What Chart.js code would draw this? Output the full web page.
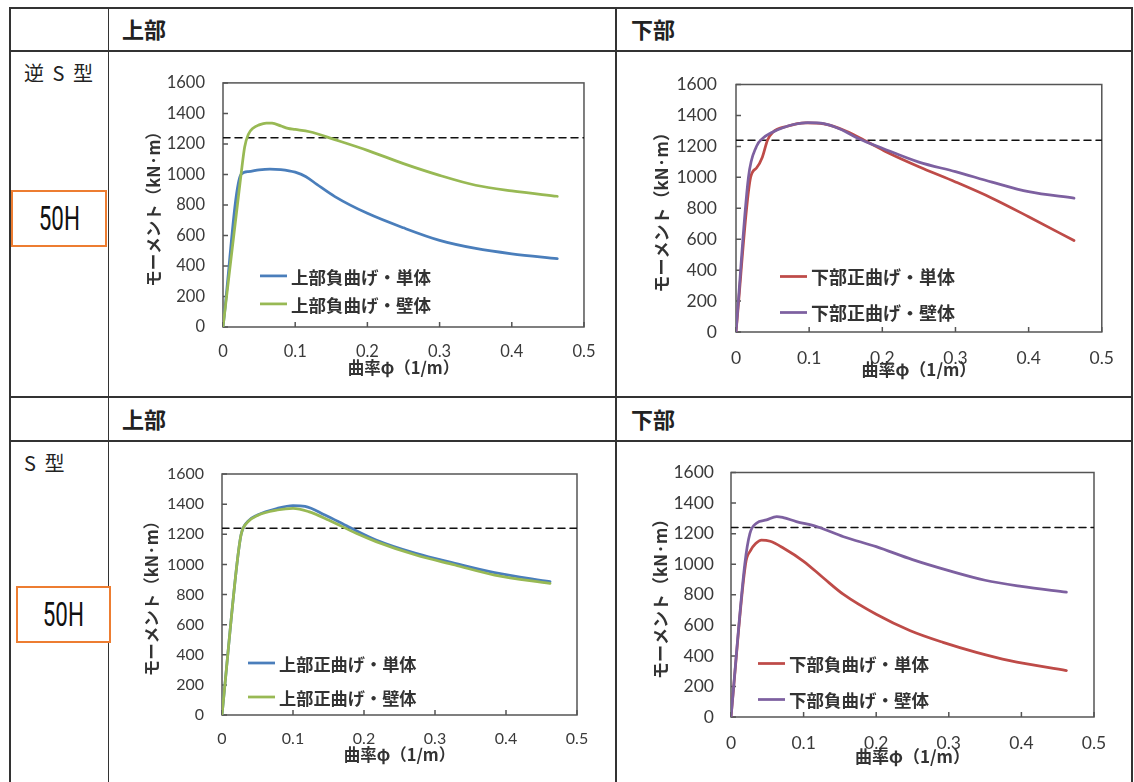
<!DOCTYPE html>
<html lang="ja">
<head>
<meta charset="utf-8">
<title>モーメント－曲率関係 50H</title>
<script src="https://cdn.jsdelivr.net/npm/chart.js@4.4.1/dist/chart.umd.min.js"></script>
<style>
  html, body { margin: 0; padding: 0; background: #fff; }
  body {
    width: 1134px; height: 782px; position: relative; overflow: hidden;
    font-family: 'Noto Sans CJK JP', sans-serif; color: #222;
  }
  .hl { position: absolute; left: 9px; width: 1123px; height: 1.5px; background: #333; }
  .vl { position: absolute; top: 7px; height: 775px; width: 1.5px; background: #333; }
  .head { position: absolute; font-size: 22px; font-weight: bold; line-height: 1; color: #222; }
  .rowlabel { position: absolute; font-size: 20px; line-height: 1; color: #222; word-spacing: 4px; }
  .tag {
    position: absolute; box-sizing: border-box; border: 2px solid #ed7d31; background: #fff;
    display: flex; align-items: center; justify-content: center;
  }
  .tag span { font-family: Roboto, sans-serif; font-size: 33px; display: inline-block; transform: scaleX(0.68); color: #111; }
  canvas.plot { position: absolute; }
</style>
</head>
<body>

<!-- table rules -->
<div class="hl" style="top:7px"></div>
<div class="hl" style="top:50px"></div>
<div class="hl" style="top:396px"></div>
<div class="hl" style="top:440px"></div>
<div class="vl" style="left:9px"></div>
<div class="vl" style="left:107.5px"></div>
<div class="vl" style="left:615px"></div>
<div class="vl" style="left:1131px"></div>

<!-- headers -->
<div class="head" style="left:122px; top:17px">上部</div>
<div class="head" style="left:631px; top:17px">下部</div>
<div class="head" style="left:122px; top:407px">上部</div>
<div class="head" style="left:631px; top:407px">下部</div>

<div class="rowlabel" style="left:24px; top:63px">逆 S 型</div>
<div class="rowlabel" style="left:24px; top:453px">S 型</div>

<div class="tag" style="left:11px; top:190px; width:96px; height:57px"><span>50H</span></div>
<div class="tag" style="left:16px; top:586px; width:95px; height:57px"><span>50H</span></div>

<canvas class="plot" id="c1"></canvas>
<canvas class="plot" id="c2"></canvas>
<canvas class="plot" id="c3"></canvas>
<canvas class="plot" id="c4"></canvas>

<script>
// ---- shared axis data ----
const xTickLabels = ['0', '0.1', '0.2', '0.3', '0.4', '0.5'];
const yTickLabels = ['0', '200', '400', '600', '800', '1000', '1200', '1400', '1600'];
const refMoment = 1240;   // dashed reference line
const xTitle = '曲率φ（1/m）';
const yTitle = 'モーメント（kN·m）';

// ---- 逆S型 / 上部 ----
const revUpperLabels = ['上部負曲げ・単体', '上部負曲げ・壁体'];
const revUpperSingleX = [0, 0.025, 0.035, 0.05, 0.065, 0.08, 0.1, 0.115, 0.13, 0.155, 0.2, 0.25, 0.3, 0.35, 0.4, 0.463];
const revUpperSingleY = [0, 1000, 1018, 1030, 1035, 1032, 1015, 985, 935, 855, 745, 650, 568, 515, 480, 448];
const revUpperWallX = [0, 0.025, 0.03, 0.035, 0.042, 0.05, 0.06, 0.068, 0.08, 0.09, 0.1, 0.12, 0.155, 0.2, 0.25, 0.3, 0.35, 0.4, 0.463];
const revUpperWallY = [0, 1000, 1180, 1262, 1305, 1325, 1337, 1336, 1318, 1302, 1295, 1280, 1228, 1158, 1071, 994, 929, 892, 857];

// ---- 逆S型 / 下部 ----
const revLowerLabels = ['下部正曲げ・単体', '下部正曲げ・壁体'];
const revLowerSingleX = [0, 0.02, 0.028, 0.036, 0.043, 0.05, 0.07, 0.095, 0.12, 0.15, 0.18, 0.205, 0.25, 0.3, 0.35, 0.4, 0.462];
const revLowerSingleY = [0, 1000, 1060, 1130, 1240, 1290, 1330, 1352, 1345, 1300, 1228, 1165, 1068, 970, 865, 745, 591];
const revLowerWallX = [0, 0.017, 0.028, 0.036, 0.049, 0.065, 0.08, 0.098, 0.12, 0.142, 0.168, 0.2, 0.25, 0.3, 0.35, 0.4, 0.462];
const revLowerWallY = [0, 1000, 1200, 1250, 1290, 1322, 1343, 1353, 1347, 1312, 1250, 1188, 1098, 1037, 969, 907, 865];

// ---- S型 / 上部 ----
const sUpperLabels = ['上部正曲げ・単体', '上部正曲げ・壁体'];
const sUpperSingleX = [0, 0.021, 0.027, 0.036, 0.05, 0.078, 0.1, 0.117, 0.145, 0.178, 0.217, 0.273, 0.328, 0.384, 0.462];
const sUpperSingleY = [0, 1000, 1200, 1284, 1328, 1372, 1390, 1385, 1328, 1250, 1162, 1073, 1007, 945, 885];
const sUpperWallX = [0, 0.021, 0.027, 0.036, 0.05, 0.078, 0.1, 0.122, 0.15, 0.189, 0.217, 0.273, 0.328, 0.384, 0.462];
const sUpperWallY = [0, 1000, 1200, 1280, 1325, 1361, 1372, 1350, 1295, 1206, 1151, 1062, 996, 929, 874];

// ---- S型 / 下部 ----
const sLowerLabels = ['下部負曲げ・単体', '下部負曲げ・壁体'];
const sLowerSingleX = [0, 0.02, 0.027, 0.034, 0.042, 0.054, 0.072, 0.1, 0.127, 0.155, 0.2, 0.247, 0.292, 0.338, 0.384, 0.462];
const sLowerSingleY = [0, 1000, 1090, 1135, 1158, 1150, 1106, 1019, 911, 802, 672, 564, 488, 423, 369, 304];
const sLowerWallX = [0, 0.019, 0.026, 0.035, 0.049, 0.063, 0.072, 0.09, 0.118, 0.155, 0.2, 0.25, 0.3, 0.35, 0.4, 0.462];
const sLowerWallY = [0, 1000, 1200, 1268, 1290, 1312, 1305, 1279, 1247, 1180, 1115, 1030, 958, 895, 855, 817];

const BLUE = '#4a7ebb', GREEN = '#98b954', RED = '#be4b48', PURPLE = '#7d60a0';

function pts(xs, ys) {
    return xs.map((x, i) => ({ x: x, y: ys[i] }));
}

// plot frame + inside tick marks (Excel style)
const framePlugin = {
    id: 'frame',
    beforeDatasetsDraw(chart) {
        const { ctx, chartArea: a, scales: { x, y } } = chart;
        ctx.save();
        ctx.strokeStyle = '#555';
        ctx.lineWidth = 1.5;
        ctx.strokeRect(a.left, a.top, a.right - a.left, a.bottom - a.top);
        ctx.beginPath();
        y.ticks.forEach(t => {
            const py = y.getPixelForValue(t.value);
            ctx.moveTo(a.left, py);
            ctx.lineTo(a.left + 5, py);
        });
        x.ticks.forEach(t => {
            const px = x.getPixelForValue(t.value);
            ctx.moveTo(px, a.bottom);
            ctx.lineTo(px, a.bottom - 5);
        });
        ctx.stroke();
        ctx.restore();
    }
};

// legend drawn inside the plot area
const inLegendPlugin = {
    id: 'inLegend',
    afterDatasetsDraw(chart, args, opts) {
        const { ctx, chartArea: a } = chart;
        ctx.save();
        ctx.font = 'bold ' + opts.size + 'px "Noto Sans CJK JP"';
        ctx.textBaseline = 'middle';
        ctx.fillStyle = '#333';
        let row = 0;
        chart.data.datasets.forEach(ds => {
            if (!ds.showInLegend) return;
            const x = a.left + opts.x;
            const y = a.top + opts.rows[row++];
            ctx.strokeStyle = ds.borderColor;
            ctx.lineWidth = ds.borderWidth;
            ctx.beginPath();
            ctx.moveTo(x, y);
            ctx.lineTo(x + 27, y);
            ctx.stroke();
            ctx.fillText(ds.label, x + 31, y + 1);
        });
        ctx.restore();
    }
};

function makeChart(id, g, labels, colors, sx, sy, wx, wy) {
    const el = document.getElementById(id);
    el.width = g.cw;
    el.height = g.ch;
    el.style.left = g.cx + 'px';
    el.style.top = g.cy + 'px';

    const xH = g.cy + g.ch - g.B;       // x scale height
    const yW = g.L - g.cx;              // y scale width
    const titleLH = g.titleSize * 1.2;

    return new Chart(el, {
        type: 'line',
        data: {
            datasets: [
                { label: labels[0], data: pts(sx, sy), borderColor: colors[0], borderWidth: 2.75, order: 1, showInLegend: true },
                { label: labels[1], data: pts(wx, wy), borderColor: colors[1], borderWidth: 2.75, order: 0, showInLegend: true },
                {
                    label: 'ref', data: [{ x: 0, y: refMoment }, { x: 0.5, y: refMoment }],
                    borderColor: '#111', borderWidth: 1.5, borderDash: [7, 5], tension: 0, order: 2
                }
            ]
        },
        options: {
            responsive: false,
            animation: false,
            events: [],
            layout: { padding: { left: 0, top: g.T - g.cy, right: g.cx + g.cw - g.R, bottom: 0 } },
            elements: {
                point: { radius: 0 },
                line: { tension: 0.4, cubicInterpolationMode: 'monotone', borderCapStyle: 'round', borderJoinStyle: 'round' }
            },
            plugins: {
                legend: { display: false },
                tooltip: { enabled: false },
                inLegend: { x: g.legendX, rows: g.legendRows, size: g.legendSize }
            },
            scales: {
                x: {
                    type: 'linear', min: 0, max: 0.5,
                    afterFit: s => { s.height = xH; },
                    grid: { display: false, drawTicks: false },
                    border: { display: false },
                    ticks: {
                        stepSize: 0.1, padding: g.xTickPad, color: '#3a3a3a', maxRotation: 0, autoSkip: false,
                        font: { family: 'Lato', size: g.tickSize },
                        callback: (v, i) => xTickLabels[i]
                    },
                    title: {
                        display: true, text: xTitle, color: '#333',
                        font: { family: 'Noto Sans CJK JP', size: g.titleSize, weight: 'bold' },
                        padding: { top: 0, bottom: g.cy + g.ch - g.xTitleY - titleLH / 2 }
                    }
                },
                y: {
                    min: 0, max: 1600,
                    afterFit: s => { s.width = yW; },
                    grid: { display: false, drawTicks: false },
                    border: { display: false },
                    ticks: {
                        stepSize: 200, padding: g.yTickPad, color: '#3a3a3a',
                        font: { family: 'Lato', size: g.tickSize },
                        callback: (v, i) => yTickLabels[i]
                    },
                    title: {
                        display: true, text: yTitle, color: '#333',
                        font: { family: 'Noto Sans CJK JP', size: g.titleSize, weight: 'bold' },
                        padding: { top: g.yTitleX - g.cx - titleLH / 2, bottom: 0 }
                    }
                }
            }
        },
        plugins: [framePlugin, inLegendPlugin]
    });
}

makeChart('c1', {
    cx: 112, cy: 55, cw: 498, ch: 338, L: 223, T: 82, R: 584, B: 327,
    xTickPad: 14.5, yTickPad: 18, tickSize: 16.5, titleSize: 16.5,
    xTitleY: 367.5, yTitleX: 154,
    legendX: 37, legendRows: [193, 221], legendSize: 17.5
}, revUpperLabels, [BLUE, GREEN], revUpperSingleX, revUpperSingleY, revUpperWallX, revUpperWallY);

makeChart('c2', {
    cx: 620, cy: 55, cw: 510, ch: 338, L: 736, T: 75, R: 1116, B: 332,
    xTickPad: 16, yTickPad: 19, tickSize: 17.5, titleSize: 17,
    xTitleY: 370, yTitleX: 662,
    legendX: 44, legendRows: [192, 228], legendSize: 18
}, revLowerLabels, [RED, PURPLE], revLowerSingleX, revLowerSingleY, revLowerWallX, revLowerWallY);

makeChart('c3', {
    cx: 112, cy: 445, cw: 498, ch: 335, L: 222, T: 474, R: 577, B: 715,
    xTickPad: 14.5, yTickPad: 18, tickSize: 16, titleSize: 16.5,
    xTitleY: 755, yTitleX: 152,
    legendX: 26, legendRows: [189, 223], legendSize: 17.2
}, sUpperLabels, [BLUE, GREEN], sUpperSingleX, sUpperSingleY, sUpperWallX, sUpperWallY);

makeChart('c4', {
    cx: 620, cy: 445, cw: 510, ch: 335, L: 731, T: 471, R: 1094, B: 717,
    xTickPad: 15.5, yTickPad: 17, tickSize: 17.5, titleSize: 17,
    xTitleY: 757, yTitleX: 661,
    legendX: 27, legendRows: [191, 227], legendSize: 17.5
}, sLowerLabels, [RED, PURPLE], sLowerSingleX, sLowerSingleY, sLowerWallX, sLowerWallY);
</script>
</body>
</html>
